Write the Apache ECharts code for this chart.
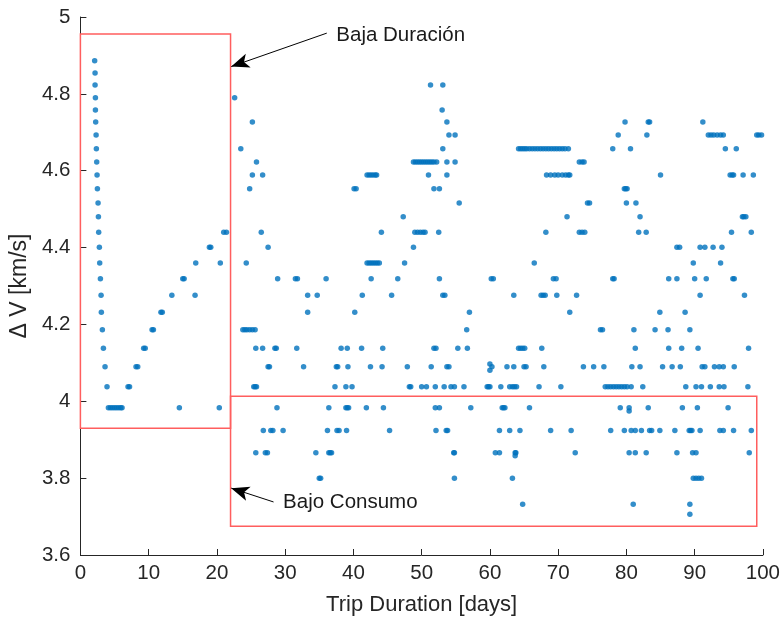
<!DOCTYPE html>
<html>
<head>
<meta charset="utf-8">
<script src="https://cdn.jsdelivr.net/npm/echarts@6/dist/echarts.min.js"></script>
<style>
  html, body { margin: 0; padding: 0; background: #fff; }
  #chart { width: 783px; height: 621px; }
</style>
</head>
<body>
<div id="chart"></div>
<script>
// niveles de ΔV (km/s) donde se agrupan las soluciones
var levels = [4.886, 4.854, 4.823, 4.790, 4.758, 4.727, 4.693, 4.657, 4.623, 4.589,
  4.553, 4.516, 4.480, 4.440, 4.401, 4.360, 4.319, 4.276, 4.232, 4.186,
  4.138, 4.090, 4.038, 3.983, 3.924, 3.866, 3.800, 3.732, 3.706];

// duración del viaje (días) de cada punto, por nivel
var daysByLevel = [
  [2.09],
  [2.15],
  [2.15, 51.3, 53.1],
  [2.2, 22.6],
  [2.2, 53.0],
  [2.24, 25.2, 53.7, 79.8, 83.2, 83.4, 91.2],
  [2.3, 54.0, 54.9, 78.8, 83.0, 92.0, 92.4, 92.8, 93.3, 93.8, 94.2, 99.1, 99.4, 99.8],
  [2.34, 23.5, 53.1, 64.2, 64.5, 64.8, 65.1, 65.4, 65.8, 66.2, 66.6, 67.0, 67.4, 67.8,
    68.2, 68.6, 69.0, 69.4, 69.8, 70.2, 70.6, 71.0, 71.5, 78.0, 80.6, 94.5, 96.1],
  [2.39, 25.8, 48.8, 49.1, 49.4, 49.7, 50.0, 50.3, 50.6, 50.9, 51.2, 51.5, 51.8, 52.2,
    53.7, 54.9, 73.1, 73.5, 73.8],
  [2.44, 25.2, 26.7, 42.0, 42.3, 42.6, 42.9, 43.2, 43.4, 51.0, 53.7, 68.3, 68.9, 69.5,
    70.0, 70.6, 71.1, 71.5, 71.7, 85.0, 95.2, 95.5, 95.7, 97.1, 98.6],
  [2.49, 24.8, 40.1, 40.4, 51.8, 52.6, 79.7, 79.9, 80.1],
  [2.59, 55.5, 74.3, 74.6, 80.0, 81.4],
  [2.64, 47.3, 71.3, 82.0, 97.0, 97.2, 97.5],
  [2.68, 21.0, 21.4, 26.5, 44.1, 49.0, 49.4, 49.8, 50.2, 50.5, 52.5, 68.2, 73.1, 73.5,
    73.9, 81.8, 82.9, 95.4, 98.3],
  [2.78, 18.9, 19.1, 27.5, 48.8, 87.4, 87.8, 90.8, 91.5, 92.7, 94.0],
  [2.83, 16.9, 20.5, 24.3, 42.0, 42.3, 42.6, 42.9, 43.2, 43.5, 43.8, 47.5, 66.5, 89.8, 93.8],
  [2.93, 15.0, 15.2, 28.9, 31.5, 31.8, 36.0, 42.6, 46.5, 52.6, 60.2, 60.5, 69.3, 69.7,
    78.0, 78.2, 86.2, 87.4, 90.0, 91.7, 95.6, 95.8],
  [3.03, 13.4, 16.8, 33.3, 34.7, 41.3, 45.6, 53.1, 53.4, 63.5, 67.5, 67.8, 68.1, 69.8,
    72.7, 90.8, 97.3],
  [3.07, 11.8, 12.0, 33.3, 40.2, 57.0, 71.7, 84.9, 88.6],
  [3.22, 10.5, 10.7, 23.8, 24.1, 24.4, 24.8, 25.2, 25.6, 56.6, 76.2, 76.5, 81.1, 84.2,
    86.1, 89.3],
  [3.37, 9.27, 9.5, 25.7, 26.7, 28.5, 28.7, 31.7, 38.2, 39.1, 41.2, 44.3, 51.8, 52.1,
    55.3, 56.7, 64.2, 64.5, 64.8, 65.1, 67.6, 81.3, 86.2, 88.1, 90.5, 97.9],
  [3.61, 8.15, 8.4, 27.5, 27.7, 32.7, 37.5, 37.7, 39.2, 42.5, 44.2, 47.9, 51.4, 53.7,
    54.0, 60.3, 62.5, 63.5, 65.0, 65.3, 67.9, 73.7, 75.2, 76.7, 80.8, 82.0, 85.3, 86.7,
    87.9, 91.1, 91.5, 92.9, 93.6, 94.2, 95.8],
  [3.9, 6.98, 7.2, 25.4, 25.6, 25.8, 37.3, 38.9, 39.8, 48.2, 48.4, 50.0, 50.7, 52.0,
    53.3, 54.3, 54.8, 56.2, 59.6, 59.8, 60.0, 61.6, 62.9, 63.3, 63.6, 63.9, 67.2, 70.4,
    76.9, 77.3, 77.7, 78.1, 78.5, 78.9, 79.3, 79.7, 80.1, 80.7, 82.4, 88.7, 90.2, 91.0,
    92.3, 93.6, 94.3, 97.8],
  [4.1, 4.4, 4.7, 5.0, 5.3, 5.6, 5.9, 6.1, 14.5, 20.35, 28.8, 36.4, 38.9, 39.1, 39.3,
    41.9, 44.4, 52.0, 52.6, 57.2, 61.8, 62.0, 62.2, 65.8, 79.1, 80.4, 83.2, 88.2, 90.4, 94.9],
  [26.8, 27.9, 28.2, 29.7, 36.2, 37.6, 37.9, 39.0, 45.3, 52.1, 53.6, 53.8, 61.4, 62.9,
    64.4, 68.9, 71.9, 77.7, 79.7, 80.7, 81.3, 82.2, 83.4, 83.7, 84.9, 87.1, 89.2, 89.4,
    89.6, 90.8, 93.7, 94.2, 95.7, 98.3],
  [25.7, 27.1, 27.4, 34.5, 36.4, 36.6, 36.8, 54.7, 54.8, 60.8, 61.4, 63.8, 63.7, 72.5,
    80.4, 81.3, 82.9, 87.4, 89.7, 90.2, 98.0],
  [35.0, 35.2, 54.8, 63.3, 89.8, 90.2, 90.6, 91.0],
  [64.8, 81.0, 89.3],
  [89.3]
];

// puntos sueltos fuera de los niveles
var extraPoints = [[60.0, 4.097], [60.0, 4.081], [80.4, 3.975], [63.7, 3.858]];

var xTicks = ['0', '10', '20', '30', '40', '50', '60', '70', '80', '90', '100'];
var yTicks = ['3.6', '3.8', '4', '4.2', '4.4', '4.6', '4.8', '5'];

// zonas marcadas [x0, y0, x1, y1]
var zoneBaja = [0, 4.956, 22, 3.93];
var zoneConsumo = [22, 4.013, 99.1, 3.675];

var points = [];
levels.forEach(function (dv, i) {
  daysByLevel[i].forEach(function (d) { points.push([d, dv]); });
});
extraPoints.forEach(function (p) { points.push(p); });

var axisColor = '#262626';
var font = 'Liberation Sans, Arial, sans-serif';

var chart = echarts.init(document.getElementById('chart'));

var option = {
  backgroundColor: '#ffffff',
  animation: false,
  grid: { left: 80, right: 20, top: 17, bottom: 65 },
  xAxis: {
    type: 'value',
    min: 0,
    max: 100,
    interval: 10,
    name: 'Trip Duration [days]',
    nameLocation: 'middle',
    nameGap: 39,
    nameTextStyle: { color: axisColor, fontSize: 22, fontFamily: font },
    axisLine: { lineStyle: { color: axisColor, width: 1 } },
    axisTick: { inside: true, length: 6, lineStyle: { color: axisColor } },
    axisLabel: {
      color: axisColor, fontSize: 20.5, fontFamily: font, margin: 8,
      formatter: function (v) { return xTicks[Math.round(v / 10)]; }
    },
    splitLine: { show: false }
  },
  yAxis: {
    type: 'value',
    min: 3.6,
    max: 5,
    interval: 0.2,
    name: 'Δ V [km/s]',
    nameLocation: 'middle',
    nameGap: 31,
    nameTextStyle: { color: axisColor, fontSize: 23, fontFamily: font },
    axisLine: { show: true, lineStyle: { color: axisColor, width: 1 } },
    axisTick: { show: true, inside: true, length: 6, lineStyle: { color: axisColor } },
    axisLabel: {
      color: axisColor, fontSize: 20.5, fontFamily: font, margin: 10,
      formatter: function (v) { return yTicks[Math.round((v - 3.6) / 0.2)]; }
    },
    splitLine: { show: false }
  },
  series: [
    {
      type: 'scatter',
      data: points,
      symbol: 'circle',
      symbolSize: 5.5,
      itemStyle: { color: '#0072BD' },
      silent: true
    },
    {
      type: 'scatter',
      data: [],
      silent: true,
      markArea: {
        silent: true,
        itemStyle: { color: 'rgba(0,0,0,0)', borderColor: '#ff5e5e', borderWidth: 1.5 },
        data: [
          [{ coord: [zoneBaja[0], zoneBaja[1]] }, { coord: [zoneBaja[2], zoneBaja[3]] }],
          [{ coord: [zoneConsumo[0], zoneConsumo[1]] }, { coord: [zoneConsumo[2], zoneConsumo[3]] }]
        ]
      },
      markLine: {
        silent: true,
        symbol: ['none', 'arrow'],
        symbolSize: [11, 18],
        label: { show: false },
        lineStyle: { color: '#000', width: 1, type: 'solid' },
        data: [
          [{ coord: [36.1, 4.958] }, { coord: [22.1, 4.871] }],
          [{ coord: [28.3, 3.738] }, { coord: [22.1, 3.774] }]
        ]
      }
    }
  ]
};
chart.setOption(option);

// textos de las anotaciones
var p1 = chart.convertToPixel({ gridIndex: 0 }, [37.5, 4.951]);
var p2 = chart.convertToPixel({ gridIndex: 0 }, [29.7, 3.738]);
chart.setOption({
  graphic: [
    { type: 'text', x: p1[0], y: p1[1], silent: true,
      style: { text: 'Baja Duración', fill: '#1a1a1a', font: '20.5px ' + font, verticalAlign: 'middle' } },
    { type: 'text', x: p2[0], y: p2[1], silent: true,
      style: { text: 'Bajo Consumo', fill: '#1a1a1a', font: '20.5px ' + font, verticalAlign: 'middle' } }
  ]
});
</script>
</body>
</html>
